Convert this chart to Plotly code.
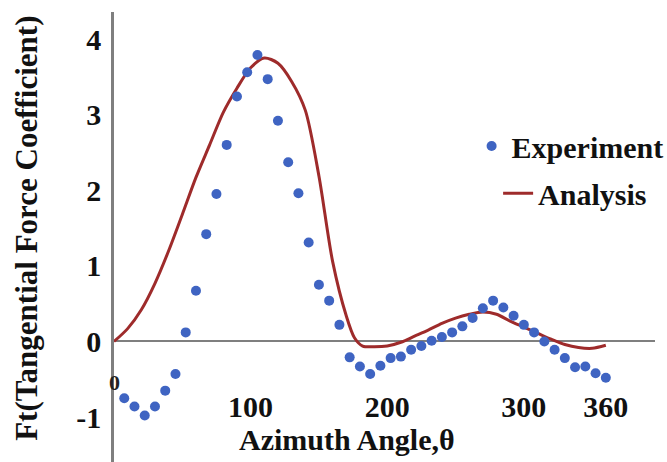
import plotly.graph_objects as go

# ---- data ----
exp_theta = [7.5, 15, 22.5, 30, 37.5, 45, 52.5, 60, 67.5, 75, 82.5, 90,
             97.5, 105, 112.5, 120, 127.5, 135, 142.5, 150, 157.5, 165, 172.5, 180,
             187.5, 195, 202.5, 210, 217.5, 225, 232.5, 240, 247.5, 255, 262.5, 270,
             277.5, 285, 292.5, 300, 307.5, 315, 322.5, 330, 337.5, 345, 352.5, 360]
exp_ft = [-0.75, -0.86, -0.98, -0.86, -0.65, -0.43, 0.12, 0.67, 1.42, 1.95, 2.60, 3.24,
          3.56, 3.79, 3.47, 2.92, 2.37, 1.96, 1.31, 0.75, 0.54, 0.22, -0.21, -0.33,
          -0.43, -0.32, -0.22, -0.20, -0.11, -0.06, 0.01, 0.06, 0.12, 0.20, 0.31, 0.44,
          0.54, 0.45, 0.34, 0.22, 0.12, 0.00, -0.11, -0.22, -0.34, -0.33, -0.42, -0.48]

ana_theta = [0, 10, 20, 30, 40, 50, 60, 70, 80, 90, 100, 110, 120, 130, 140, 150, 160,
             170, 176, 182, 190, 200, 210, 220, 230, 240, 250, 260, 270, 280, 290, 300,
             310, 320, 330, 340, 350, 360]
ana_ft = [0, 0.17, 0.42, 0.77, 1.20, 1.68, 2.17, 2.60, 3.03, 3.35, 3.62, 3.75, 3.68,
          3.44, 3.06, 2.19, 1.06, 0.34, 0.05, -0.06, -0.07, -0.06, -0.01, 0.07, 0.15,
          0.24, 0.31, 0.36, 0.39, 0.36, 0.27, 0.19, 0.11, 0.03, -0.04, -0.08, -0.09, -0.05]

y_ticks = [-1, 0, 1, 2, 3, 4]
x_ticks = [100, 200, 300, 360]
x_origin_label = "0"

BLUE = "#3F64C2"
RED = "#9E2B2B"
AXIS = "#7F7F7F"
TXT = "#111111"
FONT = "Liberation Serif"

fig = go.Figure()
fig.add_trace(go.Scatter(
    x=ana_theta, y=ana_ft, mode="lines", name="Analysis",
    line=dict(color=RED, width=3, shape="spline", smoothing=0.8),
    legend="legend2"))
fig.add_trace(go.Scatter(
    x=exp_theta, y=exp_ft, mode="markers", name="Experiment",
    marker=dict(color=BLUE, size=10), legend="legend"))

fig.update_layout(
    width=667, height=462,
    margin=dict(l=114, r=12, t=12, b=0, autoexpand=False),
    paper_bgcolor="white", plot_bgcolor="white",
    font=dict(family=FONT, size=30, color=TXT, weight="bold"),
    showlegend=True,
    xaxis=dict(range=[0, 396], showgrid=False, zeroline=False, showline=False,
               automargin=False,
               tickvals=x_ticks, ticktext=[str(v) for v in x_ticks],
               ticks="", anchor="free", position=0.17,
               tickfont=dict(family=FONT, size=30, color=TXT, weight="bold")),
    yaxis=dict(range=[-1.594, 4.358], showgrid=False, automargin=False,
               zeroline=True, zerolinecolor=AXIS, zerolinewidth=2,
               showline=True, linecolor=AXIS, linewidth=2.5,
               tickvals=y_ticks, ticktext=[str(v) for v in y_ticks],
               ticks="", ticklabelstandoff=4,
               tickfont=dict(family=FONT, size=30, color=TXT, weight="bold")),
    legend=dict(x=0.661, y=0.76, xanchor="left", yanchor="top",
                bgcolor="rgba(0,0,0,0)",
                font=dict(family=FONT, size=30, color=TXT, weight="bold")),
    legend2=dict(x=0.710, y=0.655, xanchor="left", yanchor="top",
                 bgcolor="rgba(0,0,0,0)",
                 font=dict(family=FONT, size=30, color=TXT, weight="bold")),
)

fig.add_annotation(x=0, y=-0.536, xref="x", yref="y", text=x_origin_label,
                   showarrow=False, xanchor="center", yanchor="middle",
                   font=dict(family=FONT, size=22, color="#222222"))
fig.add_annotation(x=-0.163, y=0.52, xref="paper", yref="paper",
                   text="Ft(Tangential Force Coefficient)", textangle=-90,
                   showarrow=False, xanchor="center", yanchor="middle",
                   font=dict(family=FONT, size=31, color=TXT, weight="bold"))
fig.add_annotation(x=0.43, y=0.049, xref="paper", yref="paper",
                   text="Azimuth Angle,θ", showarrow=False,
                   xanchor="center", yanchor="middle",
                   font=dict(family=FONT, size=30, color=TXT, weight="bold"))

fig.write_html("out.html", config={"displayModeBar": False})
